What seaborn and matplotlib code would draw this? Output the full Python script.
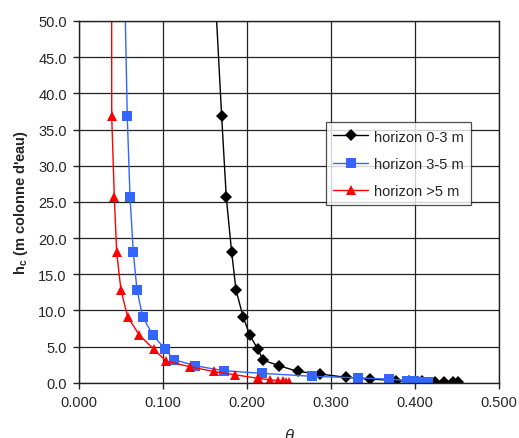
import pandas as pd
import matplotlib
matplotlib.use("Agg")
import matplotlib.pyplot as plt
import seaborn as sns

# horizon 0-3 m (points au-dessus de 50 m coupées par l'axe)
theta_0_3 = [0.1626, 0.1695, 0.175, 0.1814, 0.1866, 0.195, 0.203, 0.2125, 0.219, 0.238, 0.26, 0.2865,
             0.317, 0.3465, 0.377, 0.392, 0.408, 0.424, 0.434, 0.445, 0.451]
h_0_3 = [52.0, 36.8, 25.6, 18.0, 12.8, 9.1, 6.6, 4.6, 3.1, 2.35, 1.55, 1.2,
         0.75, 0.5, 0.3, 0.24, 0.2, 0.16, 0.12, 0.08, 0.05]

# horizon 3-5 m
theta_3_5 = [0.0545, 0.0571, 0.0604, 0.0643, 0.0687, 0.0755, 0.0874, 0.1017, 0.1124, 0.1377, 0.1723,
             0.217, 0.277, 0.332, 0.369, 0.390, 0.398, 0.405, 0.411, 0.4155]
h_3_5 = [52.0, 36.8, 25.6, 18.0, 12.8, 9.1, 6.6, 4.7, 3.2, 2.35, 1.65,
         1.3, 0.88, 0.67, 0.48, 0.3, 0.22, 0.16, 0.11, 0.07]

# horizon >5 m
theta_5 = [0.0385, 0.0386, 0.0417, 0.0445, 0.0496, 0.0576, 0.0714, 0.0889, 0.1032, 0.1318, 0.16,
           0.185, 0.213, 0.227, 0.236, 0.242, 0.246, 0.25]
h_5 = [52.0, 36.8, 25.6, 18.0, 12.8, 9.1, 6.6, 4.6, 3.0, 2.2, 1.55,
       1.1, 0.6, 0.4, 0.3, 0.2, 0.14, 0.1]

series = [
    ("horizon 0-3 m", theta_0_3, h_0_3, "black", "D", 6.0),
    ("horizon 3-5 m", theta_3_5, h_3_5, "#3366FF", "s", 6.5),
    ("horizon >5 m", theta_5, h_5, "#FF0000", "^", 7.5),
]

sns.set_theme(style="white")
plt.rcParams["font.family"] = ["Liberation Sans", "DejaVu Sans"]
plt.rcParams["mathtext.fontset"] = "custom"
plt.rcParams["mathtext.rm"] = "Liberation Sans"
plt.rcParams["mathtext.bf"] = "Liberation Sans:bold"
plt.rcParams["mathtext.it"] = "Liberation Sans:italic"

fig = plt.figure(figsize=(5.19, 4.39), dpi=100)
ax = fig.add_axes([0.1528, 0.126, 0.8092, 0.8239])

for nom, th, h, couleur, mk, ms in series:
    df = pd.DataFrame({"theta": th, "h": h})
    sns.lineplot(data=df, x="theta", y="h", ax=ax, sort=False, estimator=None,
                 color=couleur, marker=mk, markersize=ms, markeredgewidth=0,
                 linewidth=1.0, label=nom)

ax.set_xlim(0, 0.5)
ax.set_ylim(0, 50)
ax.set_xticks([0.0, 0.1, 0.2, 0.3, 0.4, 0.5])
ax.set_yticks(range(0, 51, 5))
ax.set_xticklabels([f"{v:.3f}" for v in ax.get_xticks()], fontsize=10.5)
ax.set_yticklabels([f"{v:.1f}" for v in ax.get_yticks()], fontsize=10.5)
ax.grid(True, color="#222222", linewidth=0.9)
ax.tick_params(axis="both", direction="out", length=4, width=1, color="#222222", pad=5,
               bottom=True, left=True)
for s in ax.spines.values():
    s.set_color("#222222")
    s.set_linewidth(1.0)

ax.set_xlabel("")
ax.set_ylabel(r"$\mathbf{h_c}$ (m colonne d'eau)", fontsize=10.5, fontweight="bold", labelpad=6)
fig.text(0.557, 0.025, r"$\theta$", fontsize=12, fontweight="bold", style="italic",
         ha="center", va="top")

leg = ax.legend(loc="upper left", bbox_to_anchor=(0.587, 0.72), fontsize=10.5,
                frameon=True, fancybox=False, shadow=False, borderpad=0.5,
                handlelength=2.4, handletextpad=0.4, labelspacing=0.9, borderaxespad=0)
leg.get_frame().set_edgecolor("#222222")
leg.get_frame().set_linewidth(0.9)

fig.savefig("out.png", dpi=100)
